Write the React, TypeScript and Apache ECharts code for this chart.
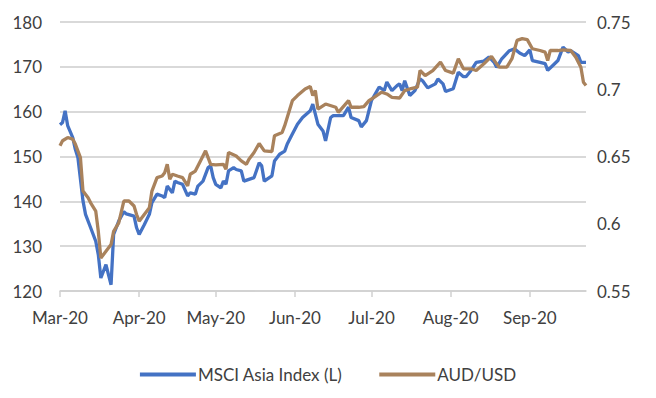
import React, { useEffect, useRef } from "react";
import * as echarts from "echarts";

const monthNames = ["Jan", "Feb", "Mar", "Apr", "May", "Jun", "Jul", "Aug", "Sep", "Oct", "Nov", "Dec"];

const msciDates = [
  "2020-03-01", "2020-03-02", "2020-03-03", "2020-03-04", "2020-03-06", "2020-03-07", "2020-03-08", "2020-03-10",
  "2020-03-11", "2020-03-13", "2020-03-15", "2020-03-16", "2020-03-17", "2020-03-19", "2020-03-20", "2020-03-21",
  "2020-03-22", "2020-03-24", "2020-03-26", "2020-03-27", "2020-03-30", "2020-03-31", "2020-04-01", "2020-04-03",
  "2020-04-05", "2020-04-06", "2020-04-08", "2020-04-10", "2020-04-11", "2020-04-12", "2020-04-14", "2020-04-15",
  "2020-04-16", "2020-04-18", "2020-04-20", "2020-04-21", "2020-04-23", "2020-04-24", "2020-04-26", "2020-04-28",
  "2020-04-29", "2020-04-30", "2020-05-01", "2020-05-03", "2020-05-04", "2020-05-05", "2020-05-06", "2020-05-08",
  "2020-05-09", "2020-05-11", "2020-05-12", "2020-05-14", "2020-05-16", "2020-05-18", "2020-05-19", "2020-05-20",
  "2020-05-23", "2020-05-24", "2020-05-26", "2020-05-28", "2020-05-29", "2020-05-31", "2020-06-02", "2020-06-04",
  "2020-06-07", "2020-06-08", "2020-06-10", "2020-06-12", "2020-06-13", "2020-06-15", "2020-06-16", "2020-06-20",
  "2020-06-22", "2020-06-23", "2020-06-26", "2020-06-27", "2020-06-29", "2020-07-01", "2020-07-04", "2020-07-06",
  "2020-07-07", "2020-07-09", "2020-07-11", "2020-07-12", "2020-07-13", "2020-07-14", "2020-07-16", "2020-07-18",
  "2020-07-20", "2020-07-21", "2020-07-23", "2020-07-26", "2020-07-27", "2020-07-29", "2020-07-30", "2020-08-02",
  "2020-08-04", "2020-08-06", "2020-08-07", "2020-08-09", "2020-08-11", "2020-08-14", "2020-08-16", "2020-08-18",
  "2020-08-19", "2020-08-21", "2020-08-24", "2020-08-26", "2020-08-28", "2020-08-30", "2020-09-01", "2020-09-02",
  "2020-09-05", "2020-09-07", "2020-09-08", "2020-09-10", "2020-09-12", "2020-09-14", "2020-09-16", "2020-09-17",
  "2020-09-20", "2020-09-21", "2020-09-23",
];
const msciValues = [
  157.1, 157.6, 160.2, 156.9, 154.2, 151.6, 149.8, 140.1,
  137.1, 134.1, 131.1, 128.1, 122.9, 125.9, 123.6, 121.4,
  132.6, 135.6, 137.7, 137.2, 136.7, 134.1, 132.6, 134.8,
  137.1, 139.7, 141.6, 141.2, 140.8, 143.4, 141.9, 144.5,
  144.2, 143.8, 141.2, 141.9, 141.6, 143.4, 144.5, 147.5,
  147.9, 145.3, 143.8, 143.0, 144.5, 143.8, 146.8, 147.5,
  147.1, 146.8, 144.5, 144.9, 145.3, 148.6, 147.9, 144.5,
  145.7, 149.0, 150.5, 151.2, 152.8, 155.0, 157.2, 158.7,
  160.2, 161.7, 157.2, 155.7, 153.5, 158.7, 159.1, 159.1,
  161.0, 158.7, 158.0, 156.6, 158.0, 162.5, 165.5, 164.7,
  166.6, 164.7, 165.8, 166.2, 164.7, 166.9, 163.6, 164.7,
  167.3, 166.9, 165.3, 166.2, 167.3, 166.2, 164.5, 165.1,
  168.8, 167.8, 167.8, 169.2, 171.0, 171.3, 172.2, 171.0,
  169.9, 171.8, 173.6, 174.0, 173.1, 172.5, 173.8, 171.4,
  171.0, 170.7, 169.2, 170.3, 171.4, 174.4, 173.3, 173.6,
  172.5, 171.0, 171.0,
];

const audDates = [
  "2020-03-01", "2020-03-02", "2020-03-04", "2020-03-06", "2020-03-07", "2020-03-09", "2020-03-10", "2020-03-12",
  "2020-03-13", "2020-03-15", "2020-03-16", "2020-03-17", "2020-03-19", "2020-03-21", "2020-03-22", "2020-03-24",
  "2020-03-26", "2020-03-28", "2020-03-30", "2020-03-31", "2020-04-01", "2020-04-03", "2020-04-05", "2020-04-06",
  "2020-04-08", "2020-04-10", "2020-04-11", "2020-04-12", "2020-04-13", "2020-04-14", "2020-04-16", "2020-04-18",
  "2020-04-20", "2020-04-21", "2020-04-23", "2020-04-25", "2020-04-27", "2020-04-29", "2020-05-01", "2020-05-04",
  "2020-05-05", "2020-05-06", "2020-05-09", "2020-05-11", "2020-05-13", "2020-05-14", "2020-05-16", "2020-05-18",
  "2020-05-20", "2020-05-23", "2020-05-24", "2020-05-27", "2020-05-28", "2020-05-31", "2020-06-02", "2020-06-05",
  "2020-06-07", "2020-06-08", "2020-06-09", "2020-06-10", "2020-06-13", "2020-06-17", "2020-06-18", "2020-06-22",
  "2020-06-23", "2020-06-26", "2020-06-28", "2020-06-30", "2020-07-02", "2020-07-05", "2020-07-07", "2020-07-09",
  "2020-07-12", "2020-07-14", "2020-07-16", "2020-07-19", "2020-07-20", "2020-07-22", "2020-07-25", "2020-07-28",
  "2020-07-30", "2020-08-02", "2020-08-04", "2020-08-06", "2020-08-09", "2020-08-11", "2020-08-14", "2020-08-17",
  "2020-08-19", "2020-08-20", "2020-08-23", "2020-08-25", "2020-08-27", "2020-08-29", "2020-08-31", "2020-09-02",
  "2020-09-05", "2020-09-07", "2020-09-08", "2020-09-09", "2020-09-12", "2020-09-14", "2020-09-17", "2020-09-19",
  "2020-09-21", "2020-09-22", "2020-09-23",
];
const audValues = [
  0.658, 0.6617, 0.6641, 0.6629, 0.6592, 0.6492, 0.6243, 0.6193,
  0.6156, 0.6094, 0.5944, 0.5745, 0.5795, 0.5845, 0.5944, 0.6007,
  0.6169, 0.6169, 0.6132, 0.6069, 0.6019, 0.6069, 0.6119, 0.6243,
  0.6343, 0.6355, 0.638, 0.6442, 0.6331, 0.6368, 0.6355, 0.6343,
  0.6281, 0.6368, 0.6392, 0.6467, 0.6542, 0.6442, 0.6438, 0.6442,
  0.6405, 0.653, 0.6504, 0.6467, 0.6442, 0.648, 0.653, 0.6597,
  0.6542, 0.6537, 0.6654, 0.6679, 0.6729, 0.6915, 0.6953, 0.7002,
  0.702, 0.6953, 0.699, 0.6853, 0.689, 0.6866, 0.6828, 0.6915,
  0.6866, 0.6866, 0.6871, 0.6915, 0.694, 0.6978, 0.6965, 0.694,
  0.6935, 0.699, 0.7002, 0.7015, 0.7139, 0.7102, 0.7139, 0.7201,
  0.7139, 0.712, 0.7227, 0.7152, 0.7152, 0.7139, 0.7189, 0.7244,
  0.7189, 0.7164, 0.7164, 0.7227, 0.7363, 0.7376, 0.7369, 0.7301,
  0.7288, 0.7276, 0.7214, 0.7288, 0.7288, 0.7293, 0.7288, 0.7238,
  0.7164, 0.7052, 0.7027,
];

const leftTicks = { min: 120, max: 180, interval: 10 };
const rightTicks = { min: 0.55, max: 0.75, interval: 0.05 };
const xRange = { min: "2020-03-01", max: "2020-09-23" };

const FONT = "Lato, 'Open Sans', sans-serif";
const TEXT = "#404040";

export default function App() {
  const ref = useRef<HTMLDivElement>(null);
  useEffect(() => {
    document.body.style.margin = "0";
    if (!ref.current) return;
    const chart = echarts.init(ref.current, undefined, { renderer: "svg" });
    const DAY = 86400000;
    chart.setOption({
      animation: false,
      textStyle: { fontFamily: FONT },
      grid: { left: 60, right: 70, top: 22, bottom: 107, containLabel: false },
      legend: {
        top: 361,
        left: "center",
        icon: "rect",
        itemWidth: 56,
        itemHeight: 4,
        itemGap: 37,
        textStyle: { fontFamily: FONT, fontSize: 17, color: TEXT, padding: [0, 0, 0, -3] },
        data: ["MSCI Asia Index (L)", "AUD/USD"],
      },
      xAxis: {
        type: "time",
        min: xRange.min,
        max: xRange.max,
        minInterval: 28 * DAY,
        maxInterval: 31 * DAY,
        splitLine: { show: false },
        axisLine: { lineStyle: { color: "#D0D0D0", width: 1.5 } },
        axisTick: { show: true, length: 6, lineStyle: { color: "#D0D0D0", width: 1.5 } },
        axisLabel: {
          fontFamily: FONT,
          fontSize: 17,
          color: TEXT,
          margin: 18,
          showMaxLabel: false,
          hideOverlap: false,
          formatter: (val: number) => {
            const d = new Date(val);
            return monthNames[d.getMonth()] + "-" + String(d.getFullYear()).slice(2);
          },
        },
      },
      yAxis: [
        {
          type: "value",
          min: leftTicks.min,
          max: leftTicks.max,
          interval: leftTicks.interval,
          axisLine: { show: false },
          axisTick: { show: false },
          splitLine: { lineStyle: { color: "#D9D9D9", width: 2 } },
          axisLabel: { fontFamily: FONT, fontSize: 17, color: TEXT, margin: 18 },
        },
        {
          type: "value",
          min: rightTicks.min,
          max: rightTicks.max,
          interval: rightTicks.interval,
          position: "right",
          axisLine: { show: false },
          axisTick: { show: false },
          splitLine: { show: false },
          axisLabel: {
            fontFamily: FONT,
            fontSize: 17,
            color: TEXT,
            margin: 11,
            formatter: (v: number) => String(Math.round(v * 100) / 100),
          },
        },
      ],
      series: [
        {
          name: "MSCI Asia Index (L)",
          type: "line",
          yAxisIndex: 0,
          showSymbol: false,
          data: msciDates.map((d, i) => [d, msciValues[i]]),
          lineStyle: { color: "#4472C4", width: 3.3 },
          itemStyle: { color: "#4472C4" },
        },
        {
          name: "AUD/USD",
          type: "line",
          yAxisIndex: 1,
          showSymbol: false,
          data: audDates.map((d, i) => [d, audValues[i]]),
          lineStyle: { color: "#A9825C", width: 3.3 },
          itemStyle: { color: "#A9825C" },
        },
      ],
    });
    return () => chart.dispose();
  }, []);
  return <div ref={ref} style={{ width: 656, height: 398 }} />;
}
